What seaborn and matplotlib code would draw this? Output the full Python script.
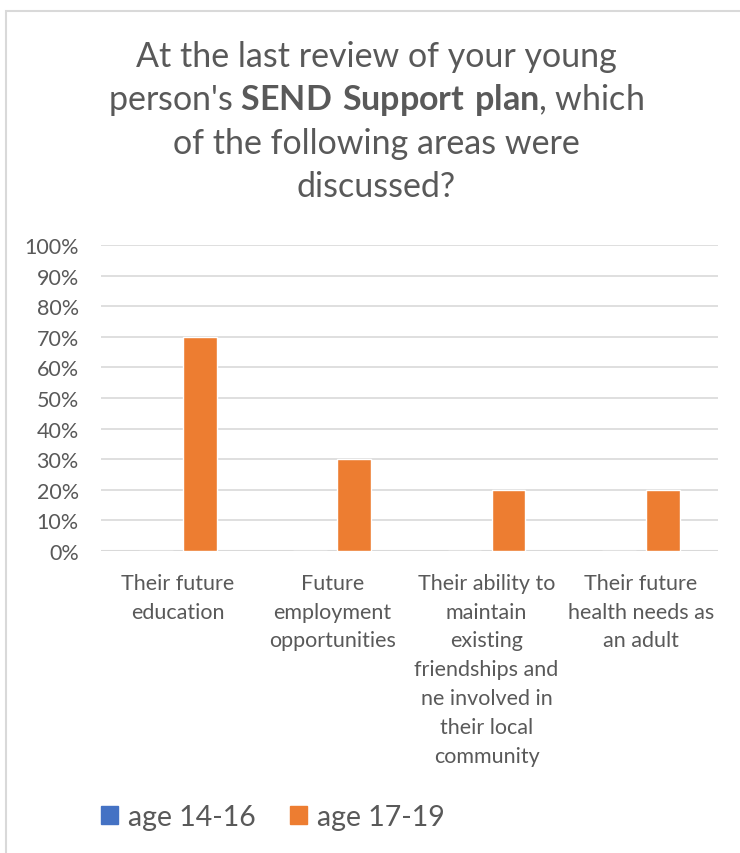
import pandas as pd
import seaborn as sns
import matplotlib.pyplot as plt
from matplotlib.patches import Rectangle

# === Data ===
areas = [
    "Their future\neducation",
    "Future\nemployment\nopportunities",
    "Their ability to\nmaintain\nexisting\nfriendships and\nne involved in\ntheir local\ncommunity",
    "Their future\nhealth needs as\nan adult",
]
groups = ["age 14-16", "age 17-19"]
age_14_16 = [0, 0, 0, 0]
age_17_19 = [70, 30, 20, 20]
colors = ["#4472C4", "#ED7D31"]
yticks = [0, 10, 20, 30, 40, 50, 60, 70, 80, 90, 100]

df = pd.DataFrame({
    "area": areas * 2,
    "group": [groups[0]] * len(areas) + [groups[1]] * len(areas),
    "pct": age_14_16 + age_17_19,
})

# === Style ===
sns.set_theme(style="white")
plt.rcParams["font.family"] = ["Lato", "DejaVu Sans"]
plt.rcParams["mathtext.fontset"] = "custom"
plt.rcParams["mathtext.rm"] = "Lato"
plt.rcParams["mathtext.bf"] = "Lato:bold"
grey = "#595959"

fig = plt.figure(figsize=(7.4, 8.54), dpi=100)
ax = fig.add_axes([0.1365, 0.3536, 0.8335, 0.3583])

sns.barplot(data=df, x="area", y="pct", hue="group", palette=colors,
            width=0.57, gap=0.23, dodge=True, saturation=1, ax=ax, legend=False)

ax.set_ylim(0, 100)
ax.set_xlim(-0.5, len(areas) - 0.5)
ax.set_yticks(yticks)
ax.set_yticklabels([f"{t}%" for t in yticks])
ax.set_xticks(range(len(areas)))
ax.set_xticklabels(areas, linespacing=1.56)
ax.yaxis.grid(True, color="#D9D9D9", linewidth=1.2)
ax.set_axisbelow(True)
for s in ax.spines.values():
    s.set_visible(False)
ax.axhline(0, color="#D9D9D9", linewidth=1.5, zorder=0)
ax.tick_params(axis="both", length=0, colors=grey)
ax.tick_params(axis="y", pad=16, labelsize=15.5)
ax.tick_params(axis="x", pad=15.5, labelsize=15.5)
ax.set_xlabel("")
ax.set_ylabel("")

# === Title (with bold part) ===
title_lines = [
    "At the last review of your young",
    "person's $\\bf{SEND\\ Support\\ plan}$, which",
    "of the following areas were",
    "discussed?",
]
for i, line in enumerate(title_lines):
    fig.text(0.508, 1 - (57 + 43.3 * i) / 854, line, ha="center", va="center",
             fontsize=24.5, color=grey)

# === Legend ===
handles = [Rectangle((0, 0), 1, 1, color=c) for c in colors]
fig.legend(handles, groups, loc="center left", bbox_to_anchor=(0.137, 0.042),
           ncol=2, frameon=False, fontsize=20.5, labelcolor=grey,
           handlelength=0.6, handleheight=0.56, handletextpad=0.32,
           columnspacing=1.23, borderaxespad=0, borderpad=0)

# chart frame
fig.patches.append(Rectangle((6 / 740, -0.05), 1.0, 1 - 12 / 854 + 0.05,
                             transform=fig.transFigure, fill=False,
                             edgecolor="#D9D9D9", linewidth=1.5))

plt.savefig("out.png", dpi=100, facecolor="white")
